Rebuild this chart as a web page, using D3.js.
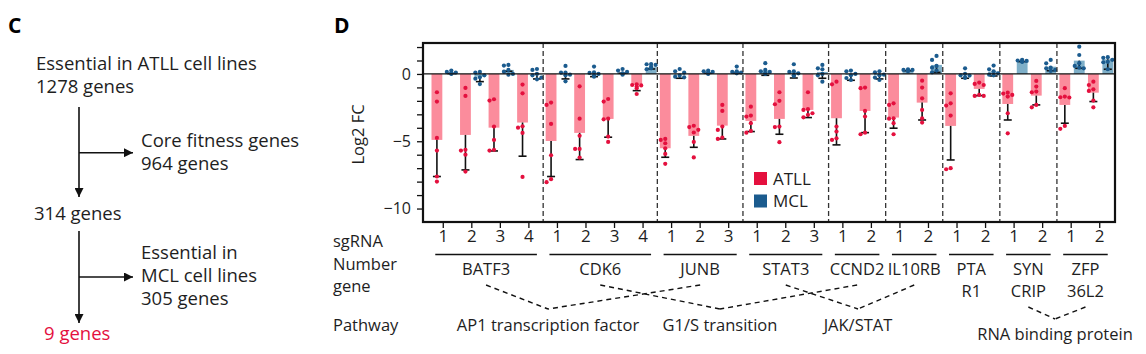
<!DOCTYPE html>
<html>
<head>
<meta charset="utf-8">
<script src="https://cdn.jsdelivr.net/npm/d3@7"></script>
<style>
  body { margin: 0; background: #fff; }
  svg { display: block; font-family: "Open Sans", Lato, sans-serif; }
</style>
</head>
<body>
<svg></svg>
<script>
// ---- data ----
const genes = ['BATF3', 'CDK6', 'JUNB', 'STAT3', 'CCND2', 'IL10RB', 'PTAR1', 'SYNCRIP', 'ZFP36L2'];
const geneLabels = [['BATF3'], ['CDK6'], ['JUNB'], ['STAT3'], ['CCND2'], ['IL10RB'], ['PTA', 'R1'], ['SYN', 'CRIP'], ['ZFP', '36L2']];
const sgGene = ['BATF3', 'BATF3', 'BATF3', 'BATF3', 'CDK6', 'CDK6', 'CDK6', 'CDK6', 'JUNB', 'JUNB', 'JUNB',
  'STAT3', 'STAT3', 'STAT3', 'CCND2', 'CCND2', 'IL10RB', 'IL10RB', 'PTAR1', 'PTAR1', 'SYNCRIP', 'SYNCRIP', 'ZFP36L2', 'ZFP36L2'];
const sgLabels = ['1', '2', '3', '4', '1', '2', '3', '4', '1', '2', '3', '1', '2', '3', '1', '2', '1', '2', '1', '2', '1', '2', '1', '2'];

const atllMean = [-4.9, -4.53, -3.99, -3.61, -4.98, -4.38, -3.34, -0.77, -5.52, -4.6, -3.84, -3.49,
  -3.34, -2.67, -3.29, -2.75, -3.24, -2.13, -3.86, -1.11, -2.23, -1.61, -2.3, -1.39];
const atllSD = [2.72, 2.6, 1.73, 2.5, 2.64, 1.98, 1.36, 0.47, 0.67, 0.85, 0.99, 0.79,
  1.14, 0.57, 1.98, 1.61, 0.79, 1.29, 2.53, 0.5, 1.19, 0.69, 1.36, 0.66];
const atllPts = [
  [-1.36, -2.05, -4.75, -5.69, -7.62, -8.0],
  [-1.04, -1.63, -5.64, -5.69, -6.0, -7.25],
  [-1.88, -1.98, -3.91, -4.9, -5.64, -5.69],
  [-0.79, -1.44, -3.89, -3.99, -4.38, -7.65],
  [-2.13, -2.3, -3.71, -6.04, -7.82, -8.04],
  [-0.92, -3.32, -4.6, -5.57, -5.57, -6.21],
  [-1.86, -2.05, -3.32, -3.37, -4.65, -5.05],
  [-0.77, -0.82, -0.85, -0.94, -1.06, -1.49],
  [-4.83, -4.9, -5.15, -5.52, -5.94, -6.68],
  [-3.85, -3.95, -4.15, -4.35, -5.05, -6.2],
  [-2.3, -2.75, -3.91, -4.16, -4.73, -4.83],
  [-2.43, -3.09, -3.17, -3.66, -4.23, -4.36],
  [-1.36, -2.0, -2.25, -3.91, -3.95, -5.07],
  [-1.36, -2.62, -2.67, -2.92, -3.04, -3.22],
  [-0.57, -0.77, -3.91, -4.28, -4.78, -4.9],
  [-1.01, -1.06, -2.75, -3.17, -4.36, -4.48],
  [-2.18, -2.3, -3.29, -3.32, -3.66, -4.48],
  [-0.5, -1.01, -1.81, -2.67, -3.29, -3.61],
  [-1.44, -2.18, -2.35, -3.09, -7.0, -7.08],
  [-0.64, -0.74, -0.82, -1.56, -1.63, -1.63],
  [-1.39, -1.46, -1.56, -1.68, -2.92, -4.41],
  [-0.52, -0.94, -1.31, -1.36, -2.3, -2.48],
  [-1.06, -1.68, -1.73, -1.75, -3.86, -4.08],
  [-0.57, -0.82, -1.14, -1.26, -1.98, -2.48]
];

const mclMean = [0.08, -0.2, 0.3, -0.05, -0.05, -0.05, 0.1, 0.5, -0.05, 0.1, 0.2, 0.25,
  0.15, 0.15, -0.07, -0.1, 0.28, 0.67, -0.06, 0.18, 0.97, 0.54, 0.99, 1.09];
const mclSD = [0.05, 0.37, 0.1, 0.32, 0.32, 0.15, 0.05, 0.13, 0.27, 0.05, 0.15, 0.35,
  0.45, 0.47, 0.4, 0.27, 0.04, 0.55, 0.26, 0.33, 0.05, 0.3, 0.57, 0.74];
const mclPts = [
  [0.0, 0.05, 0.1, 0.15, 0.25, 0.05],
  [0.15, 0.1, -0.1, -0.25, -0.35, -0.75],
  [0.67, 0.62, 0.3, 0.17, 0.0, -0.05],
  [0.37, 0.3, 0.0, -0.1, -0.27, -0.4],
  [0.6, 0.1, 0.1, -0.05, -0.1, -0.55],
  [0.55, 0.12, 0.08, 0.0, -0.1, -0.2],
  [0.37, 0.25, 0.15, 0.05, 0.0, -0.05],
  [0.74, 0.72, 0.67, 0.54, 0.42, 0.35],
  [0.37, 0.2, 0.1, -0.12, -0.2, -0.25],
  [0.25, 0.2, 0.15, 0.1, 0.05, 0.0],
  [0.55, 0.2, 0.15, 0.1, 0.1, 0.05],
  [0.8, 0.3, 0.2, 0.15, 0.05, 0.0],
  [0.72, 0.2, 0.15, 0.05, -0.1, -0.15],
  [0.67, 0.42, 0.35, 0.0, -0.1, -0.57],
  [0.25, 0.2, 0.0, -0.1, -0.3, -0.45],
  [0.2, 0.12, -0.05, -0.1, -0.27, -0.45],
  [0.35, 0.3, 0.3, 0.25, 0.25, 0.2],
  [1.34, 1.04, 0.6, 0.47, 0.25, 0.12],
  [0.42, 0.0, -0.1, -0.12, -0.25, -0.3],
  [0.62, 0.35, 0.2, 0.05, -0.05, -0.1],
  [1.05, 1.0, 0.97, 0.95, 0.92, 0.9],
  [1.04, 0.79, 0.47, 0.42, 0.3, 0.22],
  [2.03, 1.41, 0.8, 0.6, 0.47, 0.42],
  [1.25, 1.2, 1.05, 0.9, 0.87, 0.35]
];

const yTicks = [2, 1, 0, -1, -2, -3, -4, -5, -6, -7, -8, -9, -10];
const yTickLabels = [0, -5, -10];

const pathways = ['AP1 transcription factor', 'G1/S transition', 'JAK/STAT', 'RNA binding protein'];
const pathwayGenes = [['BATF3', 'JUNB'], ['CDK6', 'CCND2'], ['STAT3', 'IL10RB'], ['SYNCRIP', 'ZFP36L2']];

const flowText = [
  ['Essential in ATLL cell lines', '1278 genes'],
  ['Core fitness genes', '964 genes'],
  ['314 genes'],
  ['Essential in', 'MCL cell lines', '305 genes'],
  ['9 genes']
];

// ---- layout ----
const width = 1146;
const height = 354;
const frame = { left: 423, right: 1115, top: 43, bottom: 222 };
const pathwayX = [548, 720, 858, 1055];
const pathwayY = [331, 331, 331, 340];
const vertexY = [309, 309, 309, 319];
const labelSize = 16.5;

const red = '#e4103e';
const pink = '#fb8c9c';
const blue = '#1b5b8e';
const lightBlue = '#7eafc8';
const ink = '#1e1e1e';

const svg = d3.select('svg')
  .attr('width', width)
  .attr('height', height);

// ---- panel C : flow ----
const c = svg.append('g').attr('font-size', 18.5).attr('fill', ink);

svg.append('text').attr('x', 8).attr('y', 33).attr('font-size', 21).attr('font-weight', 700).text('C');
svg.append('text').attr('x', 334).attr('y', 33).attr('font-size', 21).attr('font-weight', 700).text('D');

const flowPos = [
  { x: 36, y: [70, 93] },
  { x: 141, y: [147, 170] },
  { x: 34, y: [220] },
  { x: 141, y: [259, 282, 305] },
  { x: 44, y: [340] }
];
flowText.forEach((lines, i) => {
  lines.forEach((t, j) => {
    c.append('text')
      .attr('x', flowPos[i].x)
      .attr('y', flowPos[i].y[j])
      .attr('fill', i === 4 ? red : ink)
      .text(t);
  });
});

svg.append('defs').append('marker')
  .attr('id', 'arrow')
  .attr('viewBox', '0 0 10 10')
  .attr('refX', 10).attr('refY', 5)
  .attr('markerWidth', 9).attr('markerHeight', 9)
  .attr('markerUnits', 'userSpaceOnUse')
  .attr('orient', 'auto')
  .append('path').attr('d', 'M0,0L10,5L0,10Z').attr('fill', '#111');

const arrows = [
  [79, 107, 79, 197], [79, 152.7, 133, 152.7],
  [79, 231, 79, 323], [79, 277, 133, 277]
];
c.selectAll('line.arrow').data(arrows)
  .enter().append('line')
    .attr('class', 'arrow')
    .attr('x1', d => d[0]).attr('y1', d => d[1])
    .attr('x2', d => d[2]).attr('y2', d => d[3])
    .attr('stroke', '#111').attr('stroke-width', 1.6)
    .attr('marker-end', 'url(#arrow)');

// ---- panel D : bar chart ----
const ids = sgLabels.map((d, i) => i);

const xScale = d3.scaleBand()
  .domain(ids)
  .range([429, 1114]);
const bw = xScale.bandwidth();

const subScale = d3.scaleBand()
  .domain(['ATLL', 'MCL'])
  .range([2.5, bw - 0.8])
  .paddingInner(0.25);

const yScale = d3.scaleLinear()
  .domain([2.3, -11])
  .range([frame.top, frame.bottom]);

const g = svg.append('g');

// y axis
const yAxis = d3.axisLeft(yScale)
  .tickValues(yTicks)
  .tickSize(6)
  .tickFormat(d => yTickLabels.includes(d) ? d3.format('d')(d).replace('-', '\u2212') : '');

const yAxisGroup = g.append('g')
  .attr('transform', `translate(${frame.left},0)`)
  .call(yAxis);
yAxisGroup.select('.domain').remove();
yAxisGroup.selectAll('line').attr('stroke', '#111').attr('stroke-width', 1.3);
yAxisGroup.selectAll('text')
  .attr('font-size', 16).attr('fill', ink)
  .attr('font-family', '"Open Sans", sans-serif')
  .attr('x', -12);

g.append('text')
  .attr('transform', `translate(364,${yScale(-4.5)}) rotate(-90)`)
  .attr('text-anchor', 'middle')
  .attr('font-size', 16.5)
  .attr('fill', ink)
  .text('Log2 FC');

// x axis ticks with sgRNA numbers
const xAxis = d3.axisBottom(xScale)
  .tickSize(6)
  .tickFormat(i => sgLabels[i]);
const xAxisGroup = g.append('g')
  .attr('transform', `translate(0,${frame.bottom})`)
  .call(xAxis);
xAxisGroup.select('.domain').remove();
xAxisGroup.selectAll('line').attr('stroke', '#111').attr('stroke-width', 1.3);
xAxisGroup.selectAll('text')
  .attr('y', 20)
  .attr('dy', 0)
  .attr('font-size', 17)
  .attr('fill', ink)
  .attr('font-family', '"Open Sans", sans-serif');

// bars
const rows = ids.map(i => ({
  i,
  series: [
    { key: 'ATLL', mean: atllMean[i], sd: atllSD[i], pts: atllPts[i], fill: pink, dot: red },
    { key: 'MCL', mean: mclMean[i], sd: mclSD[i], pts: mclPts[i], fill: lightBlue, dot: blue }
  ]
}));

const groups = g.selectAll('g.sg').data(rows)
  .enter().append('g')
    .attr('class', 'sg')
    .attr('transform', d => `translate(${xScale(d.i)},0)`);

const cells = groups.selectAll('g.cell').data(d => d.series)
  .enter().append('g')
    .attr('class', 'cell');

cells.append('rect')
  .attr('x', d => subScale(d.key))
  .attr('width', subScale.bandwidth())
  .attr('y', d => yScale(Math.max(0, d.mean)))
  .attr('height', d => Math.abs(yScale(d.mean) - yScale(0)))
  .attr('fill', d => d.fill);

// zero line
g.append('line')
  .attr('x1', frame.left).attr('x2', frame.right)
  .attr('y1', yScale(0)).attr('y2', yScale(0))
  .attr('stroke', '#111').attr('stroke-width', 1.2);

// error bars (mean - sd)
const cx = d => subScale(d.key) + subScale.bandwidth() / 2;
cells.append('line')
  .attr('x1', cx).attr('x2', cx)
  .attr('y1', d => yScale(d.mean))
  .attr('y2', d => yScale(d.mean - d.sd))
  .attr('stroke', '#111').attr('stroke-width', 1.6);
cells.append('line')
  .attr('x1', d => cx(d) - 4).attr('x2', d => cx(d) + 4)
  .attr('y1', d => yScale(d.mean - d.sd))
  .attr('y2', d => yScale(d.mean - d.sd))
  .attr('stroke', '#111').attr('stroke-width', 1.6);

// dots, spread sideways when they overlap
function swarm(pts) {
  const placed = [];
  const offsets = [0, -4.5, 4.5, -2.5, 2.5];
  pts.slice().sort((a, b) => b - a).forEach(v => {
    const py = yScale(v);
    let off = 0;
    for (const o of offsets) {
      if (placed.every(p => Math.hypot(p.dx - o, p.py - py) >= 4.2)) { off = o; break; }
    }
    placed.push({ v, py, dx: off });
  });
  return placed;
}

cells.each(function(d) {
  d3.select(this).selectAll('circle')
    .data(swarm(d.pts))
    .enter().append('circle')
      .attr('cx', p => cx(d) + p.dx)
      .attr('cy', p => p.py)
      .attr('r', 2.1)
      .attr('fill', d.dot);
});

// gene separators
const geneStart = genes.map(gn => sgGene.indexOf(gn));
const geneEnd = genes.map(gn => sgGene.lastIndexOf(gn));
g.selectAll('line.sep').data(geneStart.slice(1))
  .enter().append('line')
    .attr('class', 'sep')
    .attr('x1', i => xScale(i)).attr('x2', i => xScale(i))
    .attr('y1', frame.top).attr('y2', frame.bottom)
    .attr('stroke', '#333').attr('stroke-width', 1.3)
    .attr('stroke-dasharray', '5,3');

// frame
g.append('rect')
  .attr('x', frame.left).attr('y', frame.top)
  .attr('width', frame.right - frame.left)
  .attr('height', frame.bottom - frame.top)
  .attr('fill', 'none').attr('stroke', '#111').attr('stroke-width', 2.2);

// legend
const legend = g.append('g').attr('transform', 'translate(754,172)');
[['ATLL', red], ['MCL', blue]].forEach((d, i) => {
  legend.append('rect').attr('x', 0).attr('y', i * 22.5).attr('width', 13).attr('height', 13).attr('fill', d[1]);
  legend.append('text').attr('x', 19).attr('y', i * 22.5 + 12.5).attr('font-size', 17).attr('fill', ink).text(d[0]);
});

// row titles
const rowTitles = [['sgRNA', 247], ['Number', 269.5], ['gene', 291.5], ['Pathway', 331]];
rowTitles.forEach(d => {
  g.append('text').attr('x', 333).attr('y', d[1]).attr('font-size', labelSize).attr('fill', ink).text(d[0]);
});

// gene underline + names
const tickX = i => xScale(i) + bw / 2;
const geneCenter = genes.map((gn, k) => (tickX(geneStart[k]) + tickX(geneEnd[k])) / 2);
genes.forEach((gn, k) => {
  g.append('line')
    .attr('x1', tickX(geneStart[k]) - 8).attr('x2', tickX(geneEnd[k]) + 8)
    .attr('y1', 254.5).attr('y2', 254.5)
    .attr('stroke', '#111').attr('stroke-width', 1.4);
  geneLabels[k].forEach((t, j) => {
    g.append('text')
      .attr('x', geneCenter[k]).attr('y', 275 + j * 21.5)
      .attr('text-anchor', 'middle').attr('font-size', labelSize).attr('fill', ink)
      .text(t);
  });
});

// pathway connectors + labels
pathways.forEach((p, k) => {
  const vx = pathwayX[k];
  pathwayGenes[k].forEach(gn => {
    const gi = genes.indexOf(gn);
    const top = geneLabels[gi].length > 1 ? 307 : 285;
    g.append('line')
      .attr('x1', geneCenter[gi]).attr('y1', top)
      .attr('x2', vx).attr('y2', vertexY[k])
      .attr('stroke', '#111').attr('stroke-width', 1.4)
      .attr('stroke-dasharray', '5,4');
  });
  g.append('text')
    .attr('x', vx).attr('y', pathwayY[k])
    .attr('text-anchor', 'middle').attr('font-size', labelSize).attr('fill', ink)
    .text(p);
});
</script>
</body>
</html>
